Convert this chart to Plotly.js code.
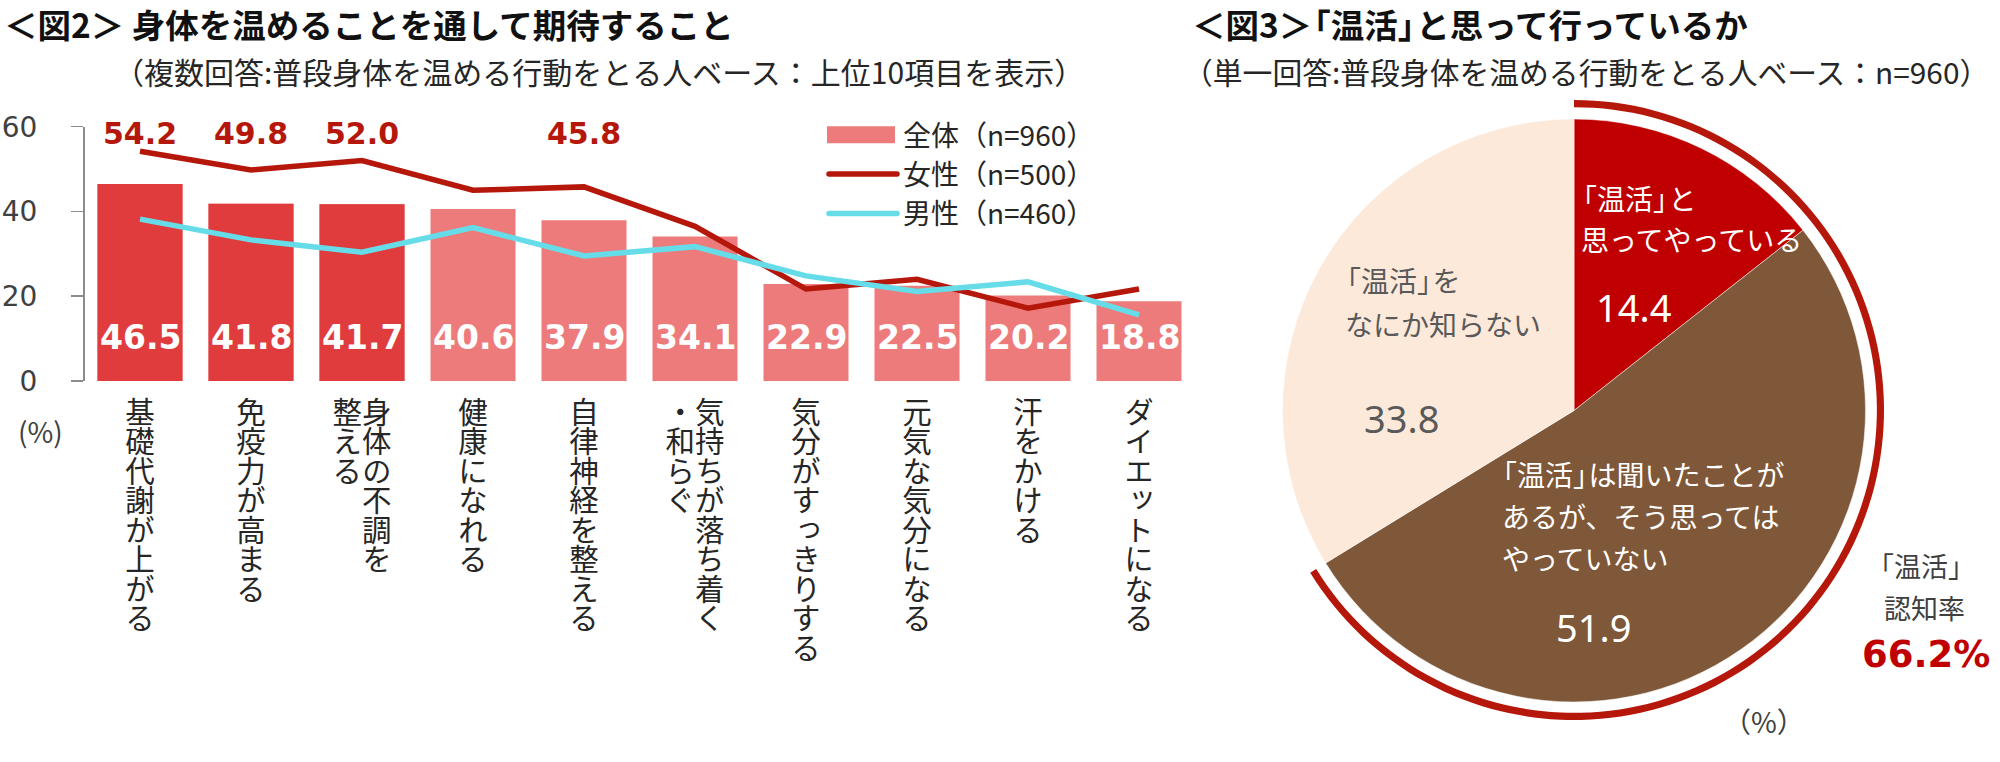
<!DOCTYPE html>
<html>
<head>
<meta charset="utf-8">
<script src="https://cdn.plot.ly/plotly-3.0.1.min.js"></script>
<style>
  html, body { margin: 0; padding: 0; background: #ffffff; }
  #chart { width: 2000px; height: 762px; }
</style>
</head>
<body>
<div id="chart"></div>
<script>
// ---------------- data ----------------
const categories = ['基礎代謝が上がる', '免疫力が高まる', '身体の不調を整える', '健康になれる', '自律神経を整える',
  '気持ちが落ち着く・和らぐ', '気分がすっきりする', '元気な気分になる', '汗をかける', 'ダイエットになる'];
const tickLabels = ['基礎代謝が上がる', '免疫力が高まる', '身体の不調を|整える', '健康になれる', '自律神経を整える',
  '気持ちが落ち着く|・和らぐ', '気分がすっきりする', '元気な気分になる', '汗をかける', 'ダイエットになる'];
const totalAll = [46.5, 41.8, 41.7, 40.6, 37.9, 34.1, 22.9, 22.5, 20.2, 18.8];
const female = [54.2, 49.8, 52.0, 45.0, 45.8, 36.5, 21.7, 24.0, 17.2, 21.7];
const male = [38.2, 33.3, 30.4, 36.2, 29.5, 31.7, 24.8, 21.1, 23.4, 15.6];
const femaleLabeled = [0, 1, 2, 4];
const highlightCount = 3;
const seriesNames = ['全体（n=960）', '女性（n=500）', '男性（n=460）'];
const yTicks = [0, 20, 40, 60];

const pieLabels = ['「温活」と思ってやっている', '「温活」は聞いたことがあるが、そう思ってはやっていない', '「温活」をなにか知らない'];
const pieValues = [14.4, 51.9, 33.8];
const awareness = 66.2;

const title2 = '＜図2＞ 身体を温めることを通して期待すること';
const sub2 = '（複数回答:普段身体を温める行動をとる人ベース：上位10項目を表示）';
const title3 = '＜図3＞「温活」と思って行っているか';
const sub3 = '（単一回答:普段身体を温める行動をとる人ベース：n=960）';

// ---------------- helpers ----------------
const W = 2000, H = 762;
const px = v => v / W;
const py = v => 1 - v / H;
const JP = '"Noto Sans CJK JP", "Noto Sans", sans-serif';
const NUM = '"DejaVu Sans", sans-serif';
const NUM2 = '"Noto Sans", sans-serif';
const TICK_FS = 29.5;
const LABEL_TOP = 397;   // top of vertical category labels (px)

// tighten the blank half of closing corner brackets / angle brackets
const tight = s => s.replace(/([」＞])/g, '<span style="letter-spacing:-0.45em">$1</span>');

const cLight = '#EE7B7B', cDark = '#E03C3E', cFemale = '#B5170B', cMale = '#66DCE8';

// ---------------- traces ----------------
const traces = [
  { type: 'bar', x: categories, y: totalAll, name: seriesNames[0], marker: { color: cLight },
    hoverinfo: 'skip' },
  { type: 'bar', x: categories, y: totalAll.map((v, i) => i < highlightCount ? v : null),
    marker: { color: cDark }, showlegend: false, hoverinfo: 'skip' },
  { type: 'scatter', mode: 'lines', x: categories, y: female, name: seriesNames[1],
    line: { color: cFemale, width: 5.5 }, hoverinfo: 'skip' },
  { type: 'scatter', mode: 'lines', x: categories, y: male, name: seriesNames[2],
    line: { color: cMale, width: 5.5 }, hoverinfo: 'skip' },
  { type: 'pie', values: pieValues, labels: pieLabels, sort: false, direction: 'clockwise', rotation: 0,
    marker: { colors: ['#C00000', '#7F5739', '#FDE9DA'], line: { color: '#ffffff', width: 0.5 } },
    textinfo: 'none', hoverinfo: 'skip', showlegend: false,
    domain: { x: [px(1282.5), px(1865.5)], y: [py(702), py(119)] } },
  { type: 'pie', values: [awareness, 100 - awareness], labels: ['認知', 'その他'], sort: false,
    direction: 'clockwise', rotation: 0, hole: 0.977,
    marker: { colors: [cFemale, 'rgba(0,0,0,0)'], line: { width: 0 } },
    textinfo: 'none', hoverinfo: 'skip', showlegend: false,
    domain: { x: [px(1264), px(1884)], y: [py(720), py(100)] } }
];

// ---------------- annotations ----------------
const ann = [];
function txt(text, x, y, size, color, opts) {
  ann.push(Object.assign({ text: text, xref: 'paper', yref: 'paper', x: px(x), y: py(y),
    showarrow: false, xanchor: 'left', yanchor: 'middle',
    font: { family: JP, size: size, color: color } }, opts || {}));
}
txt('<b>' + title2 + '</b>', 2, 24, 33.5, '#111111');
txt(sub2, 112, 71, 30, '#262626');
txt('<b>' + tight(title3) + '</b>', 1190, 24, 33.5, '#111111');
txt(sub3, 1181, 71, 29.8, '#262626');
txt('(%)', 40, 431, 28, '#404040', { xanchor: 'center' });
txt('（%）', 1764, 721, 28, '#404040', { xanchor: 'center' });

// bar values
totalAll.forEach((v, i) => ann.push({ text: '<b>' + v.toFixed(1) + '</b>', xref: 'x', yref: 'y',
  x: categories[i], y: 10.2, showarrow: false, yanchor: 'middle',
  font: { family: NUM, size: 33, color: '#ffffff' } }));
// female labels
femaleLabeled.forEach(i => ann.push({ text: '<b>' + female[i].toFixed(1) + '</b>', xref: 'x', yref: 'y',
  x: categories[i], y: 58.4, showarrow: false, yanchor: 'middle',
  font: { family: NUM, size: 30, color: cFemale } }));

// pie labels
const PF = 28;
txt(tight('「温活」と'), 1567, 198, PF, '#ffffff');
txt('思ってやっている', 1579, 239, PF, '#ffffff');
txt(pieValues[0].toFixed(1), 1633, 307, 38, '#ffffff', { xanchor: 'center', font: { family: NUM2, size: 38, color: '#ffffff' } });
txt(tight('「温活」を'), 1331, 280, PF, '#595959');
txt('なにか知らない', 1343, 324, PF, '#595959');
txt(pieValues[2].toFixed(1), 1401, 418, 38, '#595959', { xanchor: 'center', font: { family: NUM2, size: 38, color: '#595959' } });
txt(tight('「温活」は聞いたことが'), 1487, 474, PF, '#ffffff');
txt('あるが、そう思っては', 1500, 516, PF, '#ffffff');
txt('やっていない', 1500, 558, PF, '#ffffff');
txt(pieValues[1].toFixed(1), 1593, 627, 38, '#ffffff', { xanchor: 'center', font: { family: NUM2, size: 38, color: '#ffffff' } });
txt('「温活」', 1921, 565, 27, '#404040', { xanchor: 'center' });
txt('認知率', 1924, 607, 27, '#404040', { xanchor: 'center' });
txt('<b>' + awareness.toFixed(1) + '%</b>', 1926, 654, 37, '#C00000', { xanchor: 'center', font: { family: NUM, size: 37, color: '#C00000' } });

// ---------------- layout ----------------
const layout = {
  width: W, height: H,
  margin: { l: 0, r: 0, t: 0, b: 0, pad: 0 },
  paper_bgcolor: '#ffffff', plot_bgcolor: 'rgba(0,0,0,0)',
  font: { family: JP, color: '#262626' },
  barmode: 'overlay', bargap: 0.234,
  showlegend: true,
  legend: { x: px(823), y: py(110), xanchor: 'left', yanchor: 'top', bgcolor: 'rgba(0,0,0,0)',
    font: { family: JP, size: 28, color: '#262626' }, traceorder: 'normal', itemwidth: 70, tracegroupgap: 0 },
  xaxis: { domain: [px(84.5), px(1194.5)], type: 'category', showline: false, ticks: '',
    tickvals: categories, ticktext: categories, tickangle: 0,
    tickfont: { family: JP, size: TICK_FS, color: '#262626' }, ticklabelstandoff: 8,
    showgrid: false, zeroline: false, fixedrange: true },
  yaxis: { domain: [py(381), py(126.7)], range: [0, 60], tickvals: yTicks, ticks: 'outside', ticklen: 12,
    tickcolor: '#8c8c8c', tickwidth: 1.5, showline: true, linecolor: '#8c8c8c', linewidth: 1.5,
    showgrid: false, zeroline: false, ticklabelstandoff: 28,
    tickfont: { family: NUM, size: 28, color: '#404040' }, fixedrange: true },
  annotations: ann
};

// category labels are written top-to-bottom (vertical Japanese)
function verticalizeTicks() {
  const svgns = 'http://www.w3.org/2000/svg';
  document.querySelectorAll('.xtick').forEach((g, k) => {
    const t = g.querySelector('text');
    if (!t) return;
    const d = g.__data__;
    const idx = (d && typeof d.x === 'number') ? Math.round(d.x) : k;
    const label = tickLabels[idx];
    if (!label) return;
    const bb = t.getBBox();
    const rect = t.getBoundingClientRect();
    const cx = bb.x + bb.width / 2;
    const top = bb.y + (LABEL_TOP - rect.top);
    while (t.firstChild) t.removeChild(t.firstChild);
    t.removeAttribute('dy');
    t.setAttribute('text-anchor', 'start');
    t.style.writingMode = 'vertical-rl';
    const cols = label.split('|');
    cols.forEach((c, j) => {
      const ts = document.createElementNS(svgns, 'tspan');
      const off = cols.length === 2 ? (j === 0 ? 0.5 : -0.5) * TICK_FS : 0;
      ts.setAttribute('x', cx + off);
      ts.setAttribute('y', top);
      ts.textContent = c;
      t.appendChild(ts);
    });
  });
}
// wide legend keys like the original
function widenLegend() {
  const items = document.querySelectorAll('.legend .traces');
  items.forEach((it, i) => {
    it.querySelectorAll('.legendlines path').forEach(p => {
      p.setAttribute('d', 'M6,0h68');
      p.style.strokeLinecap = 'round';
    });
    it.querySelectorAll('.legendpoints path').forEach(p => {
      p.setAttribute('d', 'M4,-8.5h68v17h-68Z');
      p.removeAttribute('transform');
    });
  });
}
Plotly.newPlot('chart', traces, layout, { staticPlot: true, displayModeBar: false }).then(() => {
  verticalizeTicks();
  widenLegend();
});
</script>
</body>
</html>
